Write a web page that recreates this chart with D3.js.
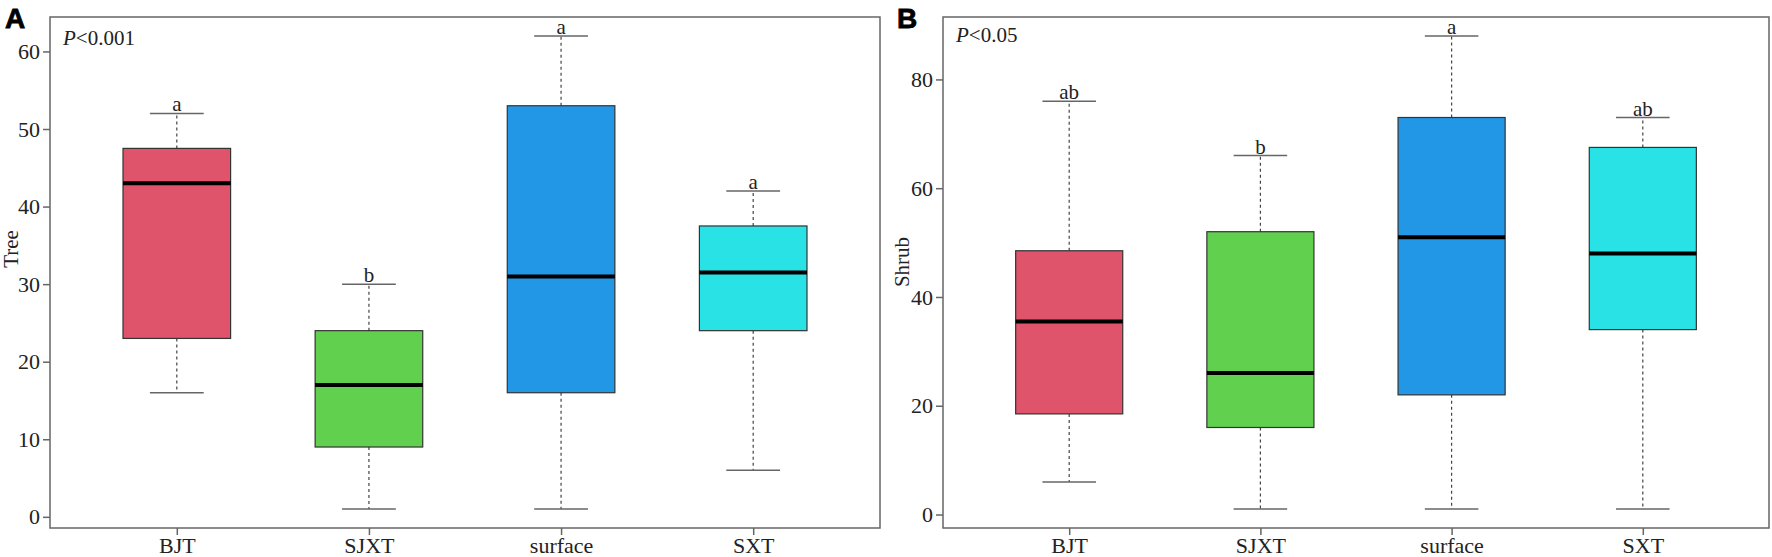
<!DOCTYPE html>
<html>
<head>
<meta charset="utf-8">
<script src="https://cdn.jsdelivr.net/npm/d3@7"></script>
<style>
  body { margin: 0; background: #fff; }
  svg text { font-family: "Liberation Serif", "Times New Roman", serif; }
  svg text.tag { font-family: "Liberation Sans", Arial, sans-serif; font-weight: bold; }
</style>
</head>
<body>
<div id="chart"></div>
<script>
// Box plots of Tree / Shrub values per group (R base-graphics look)
const W = 1772, H = 557;

const groups = ["BJT", "SJXT", "surface", "SXT"];
const groupColors = ["#DF536B", "#61D04F", "#2297E6", "#28E2E5"];

// Panel A: Tree
const treeLow = [16, 1, 1, 6];
const treeQ1 = [23, 9, 16, 24];
const treeMed = [43, 17, 31, 31.5];
const treeQ3 = [47.5, 24, 53, 37.5];
const treeHigh = [52, 30, 62, 42];
const treeLetters = ["a", "b", "a", "a"];
const treeTicks = [0, 10, 20, 30, 40, 50, 60];

// Panel B: Shrub
const shrubLow = [6, 1, 1, 1];
const shrubQ1 = [18.5, 16, 22, 34];
const shrubMed = [35.5, 26, 51, 48];
const shrubQ3 = [48.5, 52, 73, 67.5];
const shrubHigh = [76, 66, 88, 73];
const shrubLetters = ["ab", "b", "a", "ab"];
const shrubTicks = [0, 20, 40, 60, 80];

const svg = d3.select("#chart").append("svg").attr("width", W).attr("height", H);

function panel(opt) {
  const g = svg.append("g");
  const top = 17, bottom = 528;

  // R style 4% axis expansion
  const lo = d3.min(opt.low), hi = d3.max(opt.high);
  const pad = (hi - lo) * 0.04;
  const y = d3.scaleLinear().domain([lo - pad, hi + pad]).range([bottom, top]);
  const x = d3.scaleLinear().domain([0.34, groups.length + 0.66]).range([opt.left, opt.right]);

  const rows = groups.map((name, i) => ({
    name, i, pos: i + 1, color: groupColors[i],
    low: opt.low[i], q1: opt.q1[i], med: opt.med[i], q3: opt.q3[i], high: opt.high[i],
    letter: opt.letters[i]
  }));

  const boxHalf = 0.28, capHalf = 0.14;

  // whiskers (dashed)
  g.selectAll(".wh").data(rows).join("g").each(function(d) {
    const s = d3.select(this);
    [[d.q3, d.high], [d.q1, d.low]].forEach(([a, b]) => {
      s.append("line")
        .attr("x1", x(d.pos)).attr("x2", x(d.pos))
        .attr("y1", y(a)).attr("y2", y(b))
        .attr("stroke", "#444").attr("stroke-width", 1.2)
        .attr("stroke-dasharray", "3,3");
    });
    [d.high, d.low].forEach(v => {
      s.append("line")
        .attr("x1", x(d.pos - capHalf)).attr("x2", x(d.pos + capHalf))
        .attr("y1", y(v)).attr("y2", y(v))
        .attr("stroke", "#666").attr("stroke-width", 1.5);
    });
  });

  // boxes
  g.selectAll(".box").data(rows).join("rect")
    .attr("x", d => x(d.pos - boxHalf))
    .attr("width", d => x(d.pos + boxHalf) - x(d.pos - boxHalf))
    .attr("y", d => y(d.q3))
    .attr("height", d => y(d.q1) - y(d.q3))
    .attr("fill", d => d.color)
    .attr("stroke", "#333").attr("stroke-width", 1.2);

  // medians
  g.selectAll(".med").data(rows).join("line")
    .attr("x1", d => x(d.pos - boxHalf)).attr("x2", d => x(d.pos + boxHalf))
    .attr("y1", d => y(d.med)).attr("y2", d => y(d.med))
    .attr("stroke", "#000").attr("stroke-width", 4);

  // significance letters
  g.selectAll(".let").data(rows).join("text")
    .attr("x", d => x(d.pos)).attr("y", d => y(d.high) - 2)
    .attr("text-anchor", "middle")
    .attr("font-size", 21).attr("fill", "#222")
    .text(d => d.letter);

  // frame
  g.append("rect")
    .attr("x", opt.left).attr("y", top)
    .attr("width", opt.right - opt.left).attr("height", bottom - top)
    .attr("fill", "none").attr("stroke", "#666").attr("stroke-width", 1.5);

  // axes
  const ya = g.append("g").attr("transform", `translate(${opt.left},0)`)
    .call(d3.axisLeft(y).tickValues(opt.ticks).tickSize(7).tickPadding(3));
  const xa = g.append("g").attr("transform", `translate(0,${bottom})`)
    .call(d3.axisBottom(x).tickValues(rows.map(d => d.pos))
      .tickFormat(p => groups[p - 1]).tickSize(7).tickPadding(2));
  [ya, xa].forEach(a => {
    a.select(".domain").remove();
    a.selectAll(".tick line").attr("stroke", "#666").attr("stroke-width", 1.5);
    a.selectAll(".tick text").attr("font-size", 22).attr("fill", "#222");
  });

  // y label
  g.append("text")
    .attr("transform", `translate(${opt.ylabX},${opt.ylabY}) rotate(-90)`)
    .attr("text-anchor", "middle").attr("dy", "0.35em")
    .attr("font-size", 21).attr("fill", "#222")
    .text(opt.ylab);

  // p-value note
  const pt = g.append("text")
    .attr("x", opt.left + 13).attr("y", opt.pY)
    .attr("font-size", 21).attr("fill", "#222");
  pt.append("tspan").attr("font-style", "italic").text("P");
  pt.append("tspan").text(opt.pText);

  // panel letter
  svg.append("text").attr("class", "tag")
    .attr("x", opt.tagX).attr("y", 28)
    .attr("font-size", 28).attr("fill", "#000")
    .style("stroke", "#000").style("stroke-width", 0.8)
    .text(opt.tag);
}

panel({
  left: 50, right: 880, low: treeLow, q1: treeQ1, med: treeMed, q3: treeQ3, high: treeHigh,
  letters: treeLetters, ticks: treeTicks, ylab: "Tree", ylabX: 11, ylabY: 249,
  pText: "<0.001", pY: 45, tag: "A", tagX: 5
});
panel({
  left: 943, right: 1769, low: shrubLow, q1: shrubQ1, med: shrubMed, q3: shrubQ3, high: shrubHigh,
  letters: shrubLetters, ticks: shrubTicks, ylab: "Shrub", ylabX: 902, ylabY: 262,
  pText: "<0.05", pY: 42, tag: "B", tagX: 897
});
</script>
</body>
</html>
